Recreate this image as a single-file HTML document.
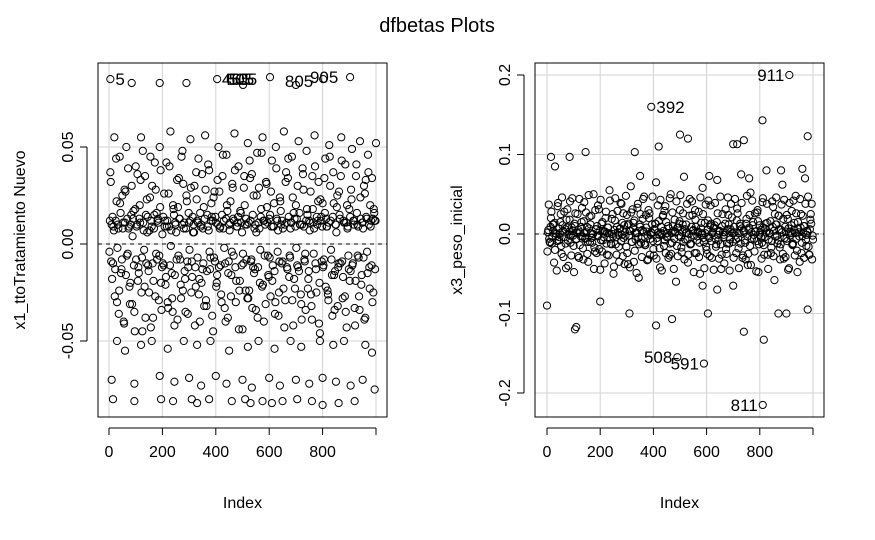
<!DOCTYPE html>
<html><head><meta charset="utf-8"><style>
html,body{margin:0;padding:0;background:#fff;}
svg{display:block;font-family:"Liberation Sans",Arial,sans-serif;}
</style></head><body>
<svg id="chart" width="875" height="540" viewBox="0 0 875 540" xmlns="http://www.w3.org/2000/svg">
<rect width="875" height="540" fill="#fff"/>
<text x="437" y="32" font-size="20" text-anchor="middle">dfbetas Plots</text>
</svg>
<script>
// Left panel: x1_ttoTratamiento Nuevo
const leftVals = [
0.037,0.01,-0.01,0.055,0.012,-0.03,0.008,0.045,-0.015,0.025,-0.04,0.011,0.05,-0.005,0.009,-0.02,0.03,0.013,-0.035,0.04,
0.01,-0.012,0.02,0.055,-0.045,0.007,0.035,-0.01,0.014,-0.025,0.045,0.009,-0.038,0.015,0.028,-0.008,0.011,0.05,-0.02,0.005,
-0.011,0.012,0.042,-0.03,0.009,0.058,-0.015,0.02,-0.042,0.01,0.033,-0.006,0.013,-0.028,0.048,0.008,-0.018,0.025,-0.036,0.011,
0.054,-0.009,0.006,0.03,-0.022,0.012,0.044,-0.04,0.01,-0.013,0.019,0.056,-0.032,0.009,0.038,-0.007,0.014,-0.045,0.027,0.011,
-0.016,0.05,0.008,-0.026,0.035,0.012,-0.01,0.046,-0.038,0.01,0.022,-0.004,0.013,0.057,-0.03,0.009,0.04,-0.019,0.011,-0.044,
0.029,0.01,-0.008,0.052,-0.024,0.012,0.036,-0.012,0.008,-0.034,0.047,0.011,-0.02,0.018,0.055,-0.04,0.01,0.031,-0.006,0.013,
-0.027,0.043,0.009,-0.014,0.05,0.012,-0.037,0.024,0.01,-0.009,0.058,-0.029,0.011,0.034,-0.017,0.008,0.045,-0.042,0.013,0.02,
-0.011,0.053,0.01,-0.031,0.039,0.009,-0.005,0.048,-0.023,0.012,0.027,-0.039,0.011,0.056,-0.013,0.01,0.032,-0.046,0.014,0.021,
-0.008,0.044,0.009,-0.026,0.051,0.012,-0.016,0.037,-0.034,0.01,0.025,-0.01,0.013,0.055,-0.028,0.011,0.041,-0.043,0.009,0.018,
-0.014,0.049,0.012,-0.033,0.035,0.01,-0.007,0.053,-0.021,0.011,0.03,-0.038,0.013,0.046,-0.012,0.009,0.034,-0.025,0.012,0.052
];
const leftVals2 = [
0.012,-0.009,0.014,0.007,-0.013,0.022,0.01,-0.024,0.016,-0.008,0.011,0.028,-0.016,0.013,0.008,-0.031,0.015,0.004,-0.011,0.018,
0.009,-0.019,0.013,0.033,-0.007,0.011,-0.022,0.015,0.006,-0.014,0.024,0.012,-0.01,0.008,-0.027,0.016,0.013,-0.006,0.038,-0.012,
0.014,0.009,-0.017,0.012,0.026,-0.011,0.007,-0.035,0.015,0.011,-0.008,0.019,0.013,-0.021,0.01,0.031,-0.014,0.008,-0.009,0.016,
0.012,-0.025,0.014,0.006,-0.012,0.023,0.011,-0.018,0.009,0.036,-0.01,0.013,-0.029,0.015,0.007,-0.013,0.021,0.012,-0.007,0.014,
-0.02,0.01,0.027,-0.011,0.015,0.008,-0.033,0.013,0.017,-0.009,0.011,-0.016,0.029,0.012,-0.012,0.009,0.014,-0.024,0.016,0.006,
-0.01,0.02,0.013,-0.028,0.011,0.034,-0.008,0.015,-0.015,0.01,0.025,-0.012,0.008,0.014,-0.022,0.012,-0.006,0.032,0.011,-0.017,
0.015,0.009,-0.011,0.021,-0.03,0.013,0.007,-0.009,0.017,0.012,-0.023,0.01,0.037,-0.013,0.014,-0.007,0.011,0.024,-0.018,0.009,
0.013,-0.012,0.016,-0.026,0.01,0.028,-0.009,0.012,0.015,-0.014,0.011,-0.032,0.018,0.008,-0.01,0.014,0.022,-0.02,0.012,0.009,
-0.011,0.016,0.013,-0.024,0.011,0.03,-0.008,0.014,-0.016,0.01,0.019,-0.012,0.015,0.035,-0.009,0.012,-0.027,0.011,0.008,-0.013,
0.014,0.023,-0.01,0.012,-0.019,0.016,0.009,-0.034,0.013,0.011,-0.007,0.026,0.014,-0.015,0.01,0.02,-0.011,0.013,0.016,0.012
];
const leftVals3 = [
-0.004,0.032,-0.018,0.009,-0.027,0.044,-0.002,-0.036,0.021,-0.013,0.008,-0.041,0.027,-0.006,0.039,-0.022,0.01,-0.031,0.017,-0.045,
-0.008,0.036,-0.015,0.011,-0.025,0.048,-0.003,-0.038,0.023,-0.011,0.007,-0.043,0.03,-0.019,0.042,-0.005,0.012,-0.029,0.019,-0.034,
-0.01,0.026,-0.021,0.009,-0.033,0.04,-0.001,-0.028,0.018,-0.016,0.006,-0.039,0.034,-0.008,0.045,-0.024,0.011,-0.035,0.022,-0.012,
-0.003,0.029,-0.017,0.01,-0.042,0.037,-0.007,-0.026,0.016,-0.02,0.008,-0.032,0.028,-0.014,0.041,-0.004,0.012,-0.037,0.024,-0.009,
-0.022,0.033,-0.012,0.009,-0.03,0.046,-0.002,-0.04,0.02,-0.015,0.007,-0.027,0.031,-0.006,0.038,-0.019,0.011,-0.044,0.017,-0.011,
-0.005,0.035,-0.024,0.01,-0.028,0.043,-0.009,-0.033,0.025,-0.013,0.006,-0.038,0.029,-0.003,0.047,-0.021,0.012,-0.031,0.019,-0.016,
-0.007,0.027,-0.019,0.009,-0.036,0.039,-0.004,-0.025,0.022,-0.01,0.008,-0.043,0.032,-0.012,0.044,-0.006,0.011,-0.029,0.016,-0.023,
-0.002,0.03,-0.014,0.01,-0.039,0.036,-0.008,-0.034,0.018,-0.018,0.007,-0.026,0.035,-0.005,0.04,-0.025,0.012,-0.041,0.023,-0.009,
-0.012,0.034,-0.022,0.009,-0.029,0.045,-0.003,-0.037,0.021,-0.014,0.006,-0.032,0.027,-0.01,0.043,-0.017,0.011,-0.035,0.02,-0.006,
-0.019,0.028,-0.011,0.01,-0.042,0.041,-0.006,-0.027,0.024,-0.016,0.008,-0.039,0.033,-0.004,0.037,-0.023,0.012,-0.03,0.018,-0.013
];
const leftExtraIdx = [5,85,190,290,405,502,603,700,802,903,10,95,190,245,300,345,400,440,500,535,600,640,700,750,800,850,905,950,995,15,95,195,240,310,330,375,460,510,530,575,610,650,705,760,800,860,920,30,60,120,160,220,280,330,380,450,520,560,620,680,720,790,840,880,960,985];
const leftExtraVals = [0.085,0.083,0.083,0.083,0.085,0.082,0.086,0.082,0.085,0.086,-0.07,-0.072,-0.068,-0.071,-0.069,-0.073,-0.068,-0.072,-0.07,-0.074,-0.069,-0.073,-0.07,-0.072,-0.069,-0.071,-0.073,-0.07,-0.075,-0.08,-0.081,-0.08,-0.081,-0.08,-0.082,-0.08,-0.081,-0.08,-0.082,-0.081,-0.082,-0.081,-0.08,-0.081,-0.083,-0.082,-0.081,-0.05,-0.055,-0.052,-0.05,-0.054,-0.05,-0.052,-0.05,-0.055,-0.053,-0.05,-0.054,-0.05,-0.053,-0.05,-0.052,-0.05,-0.052,-0.056];
const leftLabels = ["5","465","605","505","805","905"];
const leftLabelIdx = [5,404,419,430,640,734];
const leftLabelVal = [0.085,0.085,0.085,0.085,0.084,0.086];
const leftLabelSide = [1,1,1,1,1,1];
const leftYTicks = [-0.05,0.00,0.05];
const leftYTickLabels = ["-0.05","0.00","0.05"];

// Right panel: x3_peso_inicial
const rightVals = [
0.005,-0.01,0.02,-0.003,0.012,-0.02,0.0,0.035,-0.008,0.015,-0.025,0.004,0.028,-0.012,0.008,-0.04,0.018,-0.002,0.045,-0.015,
0.01,-0.006,0.025,-0.03,0.002,0.015,-0.018,0.04,-0.005,0.009,-0.035,0.022,0.001,-0.011,0.05,-0.022,0.006,-0.003,0.031,-0.045,
0.013,-0.008,0.003,0.02,-0.026,0.008,0.055,-0.012,0.0,-0.05,0.017,-0.004,0.029,-0.016,0.007,0.038,-0.028,0.011,-0.002,0.024,
-0.038,0.004,0.06,-0.01,0.014,-0.021,0.002,0.033,-0.055,0.009,-0.006,0.019,0.047,-0.014,0.003,-0.032,0.026,-0.001,0.012,-0.019,
0.006,0.065,-0.009,0.016,-0.042,0.001,0.022,-0.015,0.035,-0.004,0.01,-0.027,0.05,-0.011,0.004,0.018,-0.06,0.008,-0.002,0.03,
-0.017,0.012,0.072,-0.007,0.002,-0.036,0.023,-0.013,0.041,0.005,-0.024,0.009,-0.003,0.028,-0.05,0.014,0.058,-0.01,0.001,-0.02,
0.017,-0.005,0.036,-0.03,0.007,0.011,-0.016,0.068,-0.008,0.003,-0.044,0.025,-0.001,0.013,-0.025,0.046,-0.012,0.006,0.021,-0.065,
0.002,-0.007,0.032,-0.018,0.01,0.075,-0.03,0.004,-0.011,0.019,-0.039,0.008,0.052,-0.006,0.015,-0.022,0.003,0.027,-0.048,0.011,
-0.004,0.04,-0.014,0.007,0.08,-0.026,0.001,0.016,-0.009,0.034,-0.058,0.012,-0.002,0.023,-0.017,0.005,0.062,-0.031,0.009,-0.006,
0.019,-0.043,0.003,0.029,-0.012,0.014,0.048,-0.021,0.006,-0.035,0.025,-0.003,0.01,0.07,-0.015,0.002,-0.026,0.018,0.038,-0.007
];
const rightVals2 = [
0.002,-0.006,0.009,-0.012,0.004,0.014,-0.003,-0.009,0.007,0.001,-0.015,0.011,-0.004,0.006,0.018,-0.008,0.003,-0.011,0.008,-0.002,
0.013,-0.007,0.001,0.005,-0.014,0.009,-0.003,0.016,-0.006,0.002,-0.01,0.007,0.012,-0.005,0.0,-0.017,0.006,0.01,-0.002,0.004,
-0.008,0.015,-0.004,0.003,-0.012,0.008,0.001,-0.006,0.019,-0.003,0.005,-0.013,0.009,-0.001,0.006,-0.009,0.014,-0.005,0.002,-0.016,
0.011,-0.002,0.004,-0.01,0.007,0.017,-0.007,0.001,-0.004,0.012,-0.011,0.005,0.003,-0.014,0.008,-0.002,0.02,-0.006,0.001,-0.009,
0.006,0.013,-0.005,0.002,-0.018,0.009,-0.001,0.004,-0.008,0.015,-0.003,0.007,-0.012,0.001,0.01,-0.006,0.003,-0.015,0.008,0.016,
-0.004,0.002,-0.01,0.006,0.012,-0.007,0.0,-0.013,0.009,0.004,-0.002,0.018,-0.008,0.003,-0.011,0.007,0.001,-0.005,0.014,-0.016,
0.005,-0.003,0.011,-0.009,0.002,0.008,-0.006,0.015,-0.001,0.004,-0.013,0.01,-0.004,0.002,-0.019,0.006,0.012,-0.007,0.003,-0.01,
0.009,-0.002,0.017,-0.005,0.001,-0.012,0.007,0.004,-0.008,0.013,-0.003,0.006,-0.015,0.002,0.011,-0.006,0.003,-0.009,0.016,-0.001,
0.005,-0.011,0.008,-0.004,0.002,0.014,-0.007,0.001,-0.017,0.009,0.004,-0.003,0.012,-0.008,0.006,-0.013,0.002,0.019,-0.005,0.003,
-0.009,0.007,-0.002,0.011,-0.014,0.005,0.001,-0.006,0.015,-0.003,0.008,-0.011,0.002,0.01,-0.007,0.004,-0.016,0.006,0.013,-0.002
];
const rightVals3 = [
-0.022,0.037,-0.011,0.028,0.012,-0.036,0.001,-0.046,0.039,-0.004,0.025,0.046,-0.029,0.002,-0.043,0.031,-0.001,0.041,-0.027,0.004,
-0.048,0.026,0.002,-0.028,0.044,-0.003,0.033,-0.032,0.001,0.027,-0.025,0.049,-0.01,0.023,0.0,-0.044,0.03,-0.024,0.036,-0.019,
0.043,-0.022,0.004,-0.037,0.028,0.001,-0.027,0.042,-0.013,0.025,-0.041,0.045,-0.026,0.002,-0.035,0.039,-0.001,0.026,-0.038,0.048,
-0.024,0.013,-0.042,0.027,0.031,-0.035,0.001,-0.049,0.038,-0.013,0.025,-0.029,0.044,-0.012,0.024,-0.033,0.03,-0.026,0.002,0.047,
-0.027,0.013,-0.031,0.036,-0.001,0.043,-0.046,0.024,0.029,-0.024,0.001,-0.03,0.045,-0.025,0.027,-0.044,0.002,0.041,-0.028,0.013,
0.049,-0.023,0.026,-0.032,0.001,0.038,-0.026,0.044,-0.012,0.024,-0.048,0.03,-0.024,0.002,-0.029,0.046,-0.001,0.025,-0.043,0.037,
-0.025,0.042,-0.028,0.013,0.001,-0.045,0.039,-0.013,0.026,-0.031,0.047,-0.026,0.002,-0.037,0.031,-0.012,0.024,-0.046,0.038,0.001,
-0.03,0.044,-0.024,0.026,-0.043,0.013,0.039,-0.027,0.002,-0.032,0.048,-0.025,0.024,-0.039,0.042,-0.001,0.026,-0.047,0.03,-0.013,
0.002,-0.031,0.045,-0.026,0.013,0.038,-0.044,0.001,-0.024,0.041,-0.028,0.025,0.046,-0.012,0.023,-0.032,0.037,-0.025,0.043,-0.029,
0.024,-0.045,0.039,0.001,-0.013,0.042,-0.027,0.026,-0.048,0.002,0.044,-0.024,0.023,-0.03,0.038,-0.001,0.047,-0.026,0.025,-0.032
];
const rightExtraIdx = [392,911,811,490,590,810,500,530,980,420,700,715,740,15,85,145,330,105,110,410,470,310,605,740,815,870,900,980,0,585,30,200,350,610,760,880,960,640];
const rightExtraVals = [0.16,0.2,-0.215,-0.155,-0.163,0.143,0.125,0.12,0.123,0.11,0.113,0.113,0.118,0.097,0.097,0.103,0.103,-0.12,-0.117,-0.115,-0.107,-0.1,-0.1,-0.123,-0.133,-0.1,-0.1,-0.095,-0.09,-0.065,0.085,-0.085,0.073,0.073,0.07,0.08,0.082,-0.07];
const rightLabels = ["392","911","811","508","591"];
const rightLabelIdx = [392,911,811,490,590];
const rightLabelVal = [0.16,0.2,-0.215,-0.155,-0.163];
const rightLabelSide = [1,-1,-1,-1,-1];
const rightYTicks = [-0.2,-0.1,0.0,0.1,0.2];
const rightYTickLabels = ["-0.2","-0.1","0.0","0.1","0.2"];

const xTicks = [0,200,400,600,800];
const xGrid = [0,200,400,600,800,1000];

const NS = "http://www.w3.org/2000/svg";
const svg = document.getElementById("chart");
function mk(tag, attrs, parent){
  const e = document.createElementNS(NS, tag);
  for (const k in attrs) e.setAttribute(k, attrs[k]);
  (parent||svg).appendChild(e);
  return e;
}

function panel(cfg){
  const g = mk("g", {});
  
  
  const xs = v => cfg.x0 + v * (cfg.x1 - cfg.x0) / 1000;
  const ys = v => cfg.y0 + (v - cfg.v0) * (cfg.y1 - cfg.y0) / (cfg.v1 - cfg.v0);
  xGrid.forEach(t => {
    const l = mk("line", {x1:xs(t), x2:xs(t), y1:cfg.top, y2:cfg.bottom, stroke:"#d3d3d3", "stroke-width":1}, g);
    
    
  });
  cfg.yTicks.forEach(t => {
    const l = mk("line", {x1:cfg.left, x2:cfg.right, y1:ys(t), y2:ys(t), stroke:"#d3d3d3", "stroke-width":1}, g);
    
    
  });
  const z = mk("line", {x1:cfg.left, x2:cfg.right, y1:ys(0), y2:ys(0), stroke:"#000", "stroke-width":1, "stroke-dasharray":"4,4"}, g);
  
  
  const pts = mk("g", {fill:"none", stroke:"#000", "stroke-width":1}, g);
  
  
  cfg.series.forEach((arr, s) => {
    arr.forEach((v,i) => {
      const c = mk("circle", {cx:xs((i+1)*5 - s*1.7), cy:ys(v), r:3.6}, pts);
      
      
    });
  });
  cfg.exIdx.forEach((ix,i) => {
    const c = mk("circle", {cx:xs(ix), cy:ys(cfg.exVals[i]), r:3.6}, pts);
    
    
  });
  cfg.labels.forEach((s,i) => {
    const side = cfg.labSide[i];
    const t = mk("text", {x:xs(cfg.labIdx[i]) + side*5, y:ys(cfg.labVal[i]) + 6, "font-size":17, "text-anchor": side>0 ? "start":"end"}, g);
    t.textContent = s;
    
    
  });
  const b = mk("rect", {x:cfg.left, y:cfg.top, width:cfg.right-cfg.left, height:cfg.bottom-cfg.top, fill:"none", stroke:"#000", "stroke-width":1}, g);
  
  
  const ax = mk("line", {x1:xs(0), x2:xs(1000), y1:cfg.bottom+11, y2:cfg.bottom+11, stroke:"#000"}, g);
  
  
  xGrid.forEach(t => {
    const l = mk("line", {x1:xs(t), x2:xs(t), y1:cfg.bottom+11, y2:cfg.bottom+18, stroke:"#000"}, g);
    
    
  });
  xTicks.forEach(t => {
    const l = mk("text", {x:xs(t), y:cfg.bottom+40, "font-size":16, "text-anchor":"middle"}, g);
    l.textContent = t;
    
    
  });
  const xt = mk("text", {x:(cfg.left+cfg.right)/2, y:508, "font-size":16, "text-anchor":"middle"}, g);
  xt.textContent = "Index";
  
  
  const ay = mk("line", {x1:cfg.left-11, x2:cfg.left-11, y1:ys(cfg.yTicks[0]), y2:ys(cfg.yTicks[cfg.yTicks.length-1]), stroke:"#000"}, g);
  
  
  cfg.yTicks.forEach((t,i) => {
    const l = mk("line", {x1:cfg.left-18, x2:cfg.left-11, y1:ys(t), y2:ys(t), stroke:"#000"}, g);
    
    
    const tx = cfg.left-25, ty = ys(t);
    const lab = mk("text", {x:tx, y:ty, "font-size":16, "text-anchor":"middle", transform:`rotate(-90 ${tx} ${ty})`}, g);
    lab.textContent = cfg.yTickLabels[i];
    
    
  });
  const yx = cfg.left-73, yy = (cfg.top+cfg.bottom)/2;
  const yt = mk("text", {x:yx, y:yy, "font-size":16, "text-anchor":"middle", transform:`rotate(-90 ${yx} ${yy})`}, g);
  yt.textContent = cfg.ytitle;
  
  
}

panel({name:"left-panel", left:98, right:387, top:63, bottom:417, x0:109, x1:376,
  v0:0.05, y0:147, v1:-0.05, y1:341, yTicks:leftYTicks, yTickLabels:leftYTickLabels,
  series:[leftVals, leftVals2, leftVals3], exIdx:leftExtraIdx, exVals:leftExtraVals,
  labels:leftLabels, labIdx:leftLabelIdx, labVal:leftLabelVal, labSide:leftLabelSide,
  ytitle:"x1_ttoTratamiento Nuevo"});
panel({name:"right-panel", left:535, right:824, top:63, bottom:417, x0:547, x1:813,
  v0:0.2, y0:75, v1:-0.2, y1:393, yTicks:rightYTicks, yTickLabels:rightYTickLabels,
  series:[rightVals, rightVals2, rightVals3], exIdx:rightExtraIdx, exVals:rightExtraVals,
  labels:rightLabels, labIdx:rightLabelIdx, labVal:rightLabelVal, labSide:rightLabelSide,
  ytitle:"x3_peso_inicial"});
</script>
</body></html>
